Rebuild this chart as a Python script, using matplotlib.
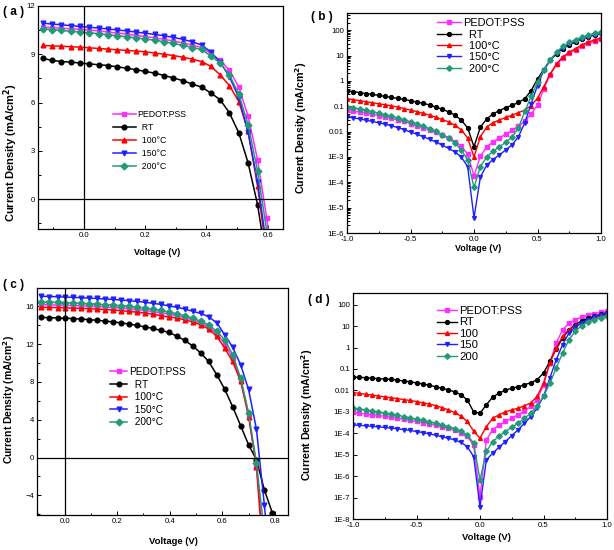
import numpy as np
import matplotlib
matplotlib.use("Agg")
import matplotlib.pyplot as plt
from matplotlib.ticker import MultipleLocator, FixedLocator, FixedFormatter, LogLocator, NullFormatter

plt.rcParams['font.family'] = ['Liberation Sans', 'DejaVu Sans']

labels_abc = ["PEDOT:PSS", "  RT", "  100°C", "  150°C", "  200°C"]
labels_d = ["PEDOT:PSS", "RT", "100", "150", "200"]
colors = ['#FF2BFF', 'black', '#FF0000', '#1F1FFF', '#229A78']
markers = ['s', 'o', '^', 'v', 'D']

# (a) J-V under light, cell 1
V_a = [-0.135, -0.104, -0.074, -0.043, -0.013, 0.018, 0.048, 0.079, 0.109, 0.14, 0.17, 0.201, 0.231,
       0.262, 0.292, 0.323, 0.353, 0.384, 0.414, 0.445, 0.475, 0.506, 0.536, 0.567, 0.597, 0.628]
J_a_pedot = [10.70, 10.65, 10.62, 10.58, 10.55, 10.50, 10.45, 10.38, 10.32, 10.25, 10.17, 10.10, 10.02,
             9.93, 9.82, 9.70, 9.57, 9.42, 9.05, 8.62, 8.00, 6.95, 5.15, 2.45, -1.2, -6.0]
J_a_rt = [8.75, 8.62, 8.55, 8.51, 8.46, 8.40, 8.35, 8.30, 8.22, 8.13, 8.04, 7.93, 7.83,
          7.68, 7.53, 7.36, 7.15, 6.96, 6.60, 6.17, 5.36, 4.10, 2.25, -0.35, -4.0, -8.0]
J_a_100 = [9.55, 9.52, 9.50, 9.47, 9.44, 9.40, 9.36, 9.32, 9.28, 9.24, 9.20, 9.15, 9.08,
           9.00, 8.92, 8.82, 8.70, 8.55, 8.25, 7.72, 7.05, 6.05, 4.20, 0.8, -3.5, -8.0]
J_a_150 = [10.93, 10.88, 10.83, 10.78, 10.73, 10.68, 10.63, 10.57, 10.51, 10.45, 10.38, 10.31, 10.23,
           10.15, 10.05, 9.93, 9.78, 9.58, 9.15, 8.50, 7.60, 6.30, 4.15, 1.05, -3.0, -8.0]
J_a_200 = [10.58, 10.53, 10.48, 10.43, 10.39, 10.33, 10.28, 10.22, 10.15, 10.09, 10.02, 9.95, 9.87,
           9.78, 9.67, 9.55, 9.42, 9.30, 8.90, 8.45, 7.72, 6.50, 4.62, 1.75, -2.0, -7.0]

# (c) J-V under light, cell 2
V_c = [-0.088, -0.058, -0.027, 0.003, 0.033, 0.064, 0.094, 0.124, 0.154, 0.185, 0.215, 0.245, 0.276, 0.306,
       0.336, 0.367, 0.397, 0.427, 0.457, 0.488, 0.518, 0.548, 0.579, 0.609, 0.639, 0.670, 0.700, 0.730,
       0.760, 0.791]
J_c_pedot = [16.18, 16.16, 16.14, 16.11, 16.08, 16.05, 16.01, 15.97, 15.92, 15.87, 15.81, 15.74, 15.66, 15.56,
             15.45, 15.32, 15.17, 15.00, 14.80, 14.55, 14.25, 13.85, 13.10, 12.05, 10.55, 8.25, 4.55, -0.9,
             -10.0, -18.0]
J_c_rt = [14.83, 14.80, 14.77, 14.74, 14.70, 14.65, 14.59, 14.52, 14.44, 14.35, 14.25, 14.13, 13.98, 13.82,
          13.66, 13.45, 13.24, 12.85, 12.40, 11.80, 11.06, 10.17, 8.76, 7.24, 5.40, 3.36, 1.35, -0.24,
          -3.42, -5.9]
J_c_100 = [15.90, 15.88, 15.86, 15.84, 15.81, 15.78, 15.74, 15.70, 15.65, 15.60, 15.54, 15.46, 15.38, 15.28,
           15.16, 15.01, 14.87, 14.76, 14.59, 14.34, 14.06, 13.60, 12.82, 11.59, 10.17, 8.05, 4.34, -1.0,
           -12.0, -20.0]
J_c_150 = [17.06, 17.04, 17.01, 16.98, 16.95, 16.91, 16.87, 16.83, 16.78, 16.73, 16.67, 16.60, 16.52, 16.43,
           16.32, 16.20, 16.05, 15.90, 15.72, 15.47, 15.25, 14.90, 14.25, 13.00, 11.70, 9.80, 7.20, 3.00,
           -5.0, -14.0]
J_c_200 = [16.46, 16.44, 16.41, 16.38, 16.35, 16.31, 16.27, 16.23, 16.18, 16.13, 16.07, 16.00, 15.92, 15.82,
           15.70, 15.58, 15.38, 15.22, 15.01, 14.76, 14.41, 14.06, 13.35, 12.47, 10.88, 8.41, 4.70, -0.6,
           -8.0, -15.0]

# (b), (d) dark J-V, log10 of current density
V_dark = [-1.0, -0.95, -0.9, -0.85, -0.8, -0.75, -0.7, -0.65, -0.6, -0.55, -0.5, -0.45, -0.4, -0.35,
          -0.3, -0.25, -0.2, -0.15, -0.1, -0.05, 0.0, 0.05, 0.1, 0.15, 0.2, 0.25, 0.3, 0.35, 0.4,
          0.45, 0.5, 0.55, 0.6, 0.65, 0.7, 0.75, 0.8, 0.85, 0.9, 0.95, 1.0]
logJ_b_pedot = [-1.15, -1.19, -1.23, -1.27, -1.32, -1.37, -1.42, -1.48, -1.54, -1.60, -1.68, -1.76, -1.84, -1.93,
                -2.02, -2.12, -2.24, -2.40, -2.58, -2.88, -3.75, -2.98, -2.60, -2.40, -2.25, -2.10, -1.95, -1.78,
                -1.58, -1.30, -0.95, -0.30, 0.25, 0.65, 0.92, 1.10, 1.24, 1.37, 1.48, 1.57, 1.65]
logJ_b_rt = [-0.39, -0.42, -0.46, -0.50, -0.53, -0.57, -0.61, -0.65, -0.69, -0.73, -0.78, -0.83, -0.88, -0.95,
             -1.03, -1.12, -1.22, -1.35, -1.55, -1.85, -2.60, -1.82, -1.50, -1.30, -1.17, -1.05, -0.96, -0.85,
             -0.70, -0.38, 0.08, 0.45, 0.82, 1.08, 1.28, 1.42, 1.54, 1.65, 1.74, 1.82, 1.88]
logJ_b_100 = [-0.70, -0.74, -0.78, -0.82, -0.86, -0.90, -0.94, -0.98, -1.03, -1.09, -1.15, -1.21, -1.28, -1.35,
              -1.43, -1.52, -1.62, -1.75, -1.93, -2.25, -3.00, -2.20, -1.82, -1.65, -1.54, -1.44, -1.35, -1.25,
              -1.15, -0.97, -0.68, -0.22, 0.28, 0.68, 0.95, 1.13, 1.28, 1.42, 1.54, 1.62, 1.70]
logJ_b_150 = [-1.42, -1.46, -1.50, -1.55, -1.60, -1.65, -1.71, -1.77, -1.84, -1.92, -2.02, -2.10, -2.20, -2.30,
              -2.41, -2.53, -2.66, -2.80, -3.00, -3.38, -5.40, -3.80, -3.32, -3.10, -2.92, -2.72, -2.52, -2.20,
              -1.65, -0.90, -0.18, 0.42, 0.82, 1.10, 1.31, 1.45, 1.57, 1.67, 1.75, 1.81, 1.85]
logJ_b_200 = [-1.02, -1.06, -1.11, -1.16, -1.21, -1.27, -1.33, -1.39, -1.46, -1.53, -1.61, -1.69, -1.78, -1.88,
              -1.99, -2.12, -2.27, -2.45, -2.72, -3.12, -4.20, -3.38, -3.00, -2.78, -2.60, -2.42, -2.22, -1.85,
              -1.20, -0.60, -0.05, 0.42, 0.82, 1.14, 1.36, 1.52, 1.63, 1.73, 1.81, 1.88, 1.94]

logJ_d_pedot = [-3.03, -3.06, -3.10, -3.13, -3.17, -3.21, -3.25, -3.29, -3.34, -3.40, -3.45, -3.50, -3.56, -3.62,
                -3.69, -3.76, -3.85, -3.97, -4.15, -4.55, -6.96, -4.31, -3.84, -3.62, -3.45, -3.30, -3.14, -2.95,
                -2.75, -2.44, -1.74, -0.72, 0.21, 0.83, 1.14, 1.30, 1.42, 1.51, 1.58, 1.64, 1.69]
logJ_d_rt = [-1.38, -1.39, -1.41, -1.43, -1.45, -1.47, -1.49, -1.52, -1.56, -1.60, -1.65, -1.70, -1.76, -1.83,
             -1.90, -1.97, -2.07, -2.20, -2.45, -3.00, -3.07, -2.67, -2.31, -2.13, -1.99, -1.90, -1.83, -1.74,
             -1.64, -1.50, -1.19, -0.65, -0.07, 0.44, 0.83, 1.07, 1.24, 1.36, 1.46, 1.55, 1.62]
logJ_d_100 = [-2.10, -2.14, -2.18, -2.22, -2.26, -2.30, -2.34, -2.38, -2.43, -2.47, -2.52, -2.58, -2.64, -2.71,
              -2.80, -2.91, -3.03, -3.20, -3.45, -3.90, -4.23, -3.69, -3.30, -3.14, -3.00, -2.91, -2.83, -2.72,
              -2.58, -2.28, -1.66, -0.72, -0.02, 0.52, 0.83, 1.00, 1.14, 1.27, 1.38, 1.46, 1.53]
logJ_d_150 = [-3.61, -3.63, -3.65, -3.68, -3.70, -3.73, -3.76, -3.79, -3.83, -3.87, -3.92, -3.97, -4.03, -4.09,
              -4.16, -4.23, -4.31, -4.43, -4.62, -5.09, -7.43, -5.24, -4.93, -4.65, -4.39, -4.11, -3.84, -3.53,
              -3.22, -2.83, -2.28, -1.42, -0.57, 0.13, 0.68, 0.95, 1.14, 1.30, 1.42, 1.51, 1.58]
logJ_d_200 = [-2.83, -2.87, -2.92, -2.96, -3.01, -3.06, -3.11, -3.16, -3.22, -3.28, -3.34, -3.40, -3.46, -3.53,
              -3.61, -3.69, -3.78, -3.90, -4.07, -4.46, -6.18, -4.85, -4.39, -4.13, -3.92, -3.72, -3.53, -3.30,
              -3.06, -2.75, -2.28, -1.66, -0.96, -0.26, 0.36, 0.75, 1.02, 1.18, 1.30, 1.38, 1.45]

log_labels_b = ['1E-6', '1E-5', '1E-4', '1E-3', '0.01', '0.1', '1', '10', '100']
log_labels_d = ['1E-8', '1E-7', '1E-6', '1E-5', '1E-4', '1E-3', '0.01', '0.1', '1', '10', '100']

W, H = 614, 550
fig = plt.figure(figsize=(W / 100, H / 100), dpi=100)


def box(l, t, r, b):
    return [l / W, 1 - b / H, (r - l) / W, (b - t) / H]


def style(ax):
    ax.tick_params(which='both', direction='in', top=False, right=False, labelsize=5.6, pad=2, width=0.7)
    ax.tick_params(which='major', length=3)
    ax.tick_params(which='minor', length=1.8)
    for s in ax.spines.values():
        s.set_linewidth(0.9)


def legend(ax, labels, x, y, fs, spacing, hl):
    ax.legend(labels, loc='upper left', bbox_to_anchor=(x, y), frameon=False, fontsize=fs,
              borderpad=0, borderaxespad=0, labelspacing=spacing, handlelength=hl, handletextpad=0.2)


def labels(ax, xl, yl, xfs, yfs):
    ax.set_xlabel('Voltage (V)', fontsize=xfs, fontweight='bold')
    ax.set_ylabel('Current Density (mA/cm$^\\mathbf{2}$)', fontsize=yfs, fontweight='bold')
    ax.xaxis.set_label_coords(*xl)
    ax.yaxis.set_label_coords(*yl)


# ---- (a)
ax = fig.add_axes(box(38, 6, 283, 229))
for J, c, m in zip([J_a_pedot, J_a_rt, J_a_100, J_a_150, J_a_200], colors, markers):
    ax.plot(V_a, J, color=c, marker=m, ms=3.4, lw=1.1, mec=c)
ax.axhline(0, color='black', lw=0.9)
ax.axvline(0, color='black', lw=0.9)
ax.set_xlim(-0.15, 0.65)
ax.set_ylim(-1.86, 12)
ax.xaxis.set_major_locator(MultipleLocator(0.2))
ax.xaxis.set_minor_locator(MultipleLocator(0.1))
ax.yaxis.set_major_locator(MultipleLocator(3))
ax.yaxis.set_minor_locator(MultipleLocator(1.5))
ax.xaxis.set_major_formatter(plt.FormatStrFormatter('%.1f'))
style(ax)
labels(ax, (0.486, -0.085), (-0.072, 0.34), 6.4, 8.0)
legend(ax, labels_abc, 0.306, 0.534, 6.3, 0.45, 2.6)
fig.text(3 / W, 1 - 12 / H, '( a )', fontsize=8.5, fontweight='bold', va='center')

# ---- (b)
ax = fig.add_axes(box(347, 13, 601, 233))
for J, c, m in zip([logJ_b_pedot, logJ_b_rt, logJ_b_100, logJ_b_150, logJ_b_200], colors, markers):
    ax.plot(V_dark, 10 ** np.array(J), color=c, marker=m, ms=2.8, lw=1.0, mec=c)
ax.set_yscale('log')
ax.set_xlim(-1, 1)
ax.set_ylim(1e-6, 480)
ax.xaxis.set_major_locator(MultipleLocator(0.5))
ax.xaxis.set_minor_locator(MultipleLocator(0.25))
ax.xaxis.set_major_formatter(plt.FormatStrFormatter('%.1f'))
ax.yaxis.set_major_locator(FixedLocator([10.0 ** k for k in range(-6, 3)]))
ax.yaxis.set_major_formatter(FixedFormatter(log_labels_b))
ax.yaxis.set_minor_locator(LogLocator(base=10, subs=np.arange(2, 10)))
ax.yaxis.set_minor_formatter(NullFormatter())
style(ax)
labels(ax, (0.516, -0.05), (-0.15, 0.48), 6.4, 7.7)
legend(ax, labels_abc, 0.353, 0.976, 7.9, 0.12, 2.2)
fig.text(311 / W, 1 - 17 / H, '( b )', fontsize=8.5, fontweight='bold', va='center')

# ---- (c)
ax = fig.add_axes(box(37, 288, 288, 515))
for J, c, m in zip([J_c_pedot, J_c_rt, J_c_100, J_c_150, J_c_200], colors, markers):
    ax.plot(V_c, J, color=c, marker=m, ms=3.4, lw=1.1, mec=c)
ax.axhline(0, color='black', lw=0.9)
ax.axvline(0, color='black', lw=0.9)
ax.set_xlim(-0.105, 0.85)
ax.set_ylim(-6.08, 17.94)
ax.xaxis.set_major_locator(MultipleLocator(0.2))
ax.xaxis.set_minor_locator(MultipleLocator(0.1))
ax.yaxis.set_major_locator(MultipleLocator(4))
ax.yaxis.set_minor_locator(MultipleLocator(2))
ax.xaxis.set_major_formatter(plt.FormatStrFormatter('%.1f'))
style(ax)
labels(ax, (0.542, -0.099), (-0.078, 0.507), 6.8, 7.5)
legend(ax, labels_abc, 0.291, 0.652, 7.3, 0.25, 1.7)
fig.text(3 / W, 1 - 285 / H, '( c )', fontsize=8.5, fontweight='bold', va='center')

# ---- (d)
ax = fig.add_axes(box(353, 293, 607, 519))
for J, c, m in zip([logJ_d_pedot, logJ_d_rt, logJ_d_100, logJ_d_150, logJ_d_200], colors, markers):
    ax.plot(V_dark, 10 ** np.array(J), color=c, marker=m, ms=2.8, lw=1.0, mec=c)
ax.set_yscale('log')
ax.set_xlim(-1, 1)
ax.set_ylim(1e-8, 350)
ax.xaxis.set_major_locator(MultipleLocator(0.5))
ax.xaxis.set_minor_locator(MultipleLocator(0.25))
ax.xaxis.set_major_formatter(plt.FormatStrFormatter('%.1f'))
ax.yaxis.set_major_locator(FixedLocator([10.0 ** k for k in range(-8, 3)]))
ax.yaxis.set_major_formatter(FixedFormatter(log_labels_d))
ax.yaxis.set_minor_locator(LogLocator(base=10, subs=np.arange(2, 10)))
ax.yaxis.set_minor_formatter(NullFormatter())
style(ax)
labels(ax, (0.526, -0.06), (-0.15, 0.46), 6.8, 7.7)
legend(ax, labels_d, 0.33, 0.942, 8.1, 0.12, 1.8)
fig.text(308 / W, 1 - 300 / H, '( d )', fontsize=8.5, fontweight='bold', va='center')

fig.savefig('out.png', dpi=100)
